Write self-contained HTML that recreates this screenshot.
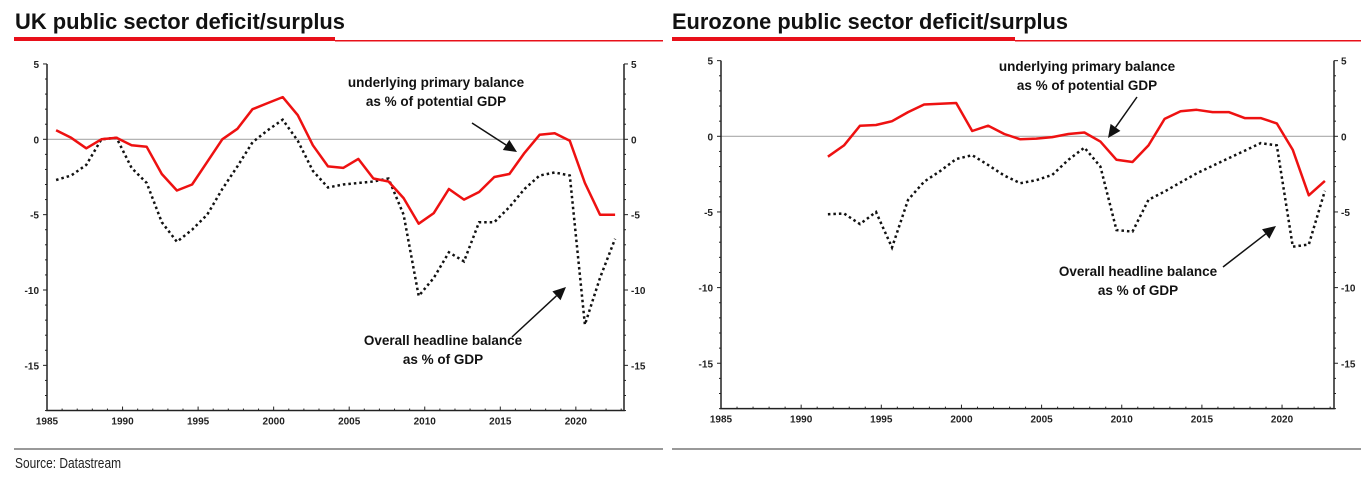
<!DOCTYPE html>
<html><head><meta charset="utf-8"><style>
body{margin:0;background:#fff;width:1371px;height:475px;overflow:hidden;font-family:"Liberation Sans",Arial,sans-serif}
</style></head><body>
<svg id="svg" width="1371" height="475" xmlns="http://www.w3.org/2000/svg">
<text x="15" y="29" font-family="Liberation Sans, sans-serif" font-weight="bold" font-size="22" fill="#111" textLength="330" lengthAdjust="spacingAndGlyphs">UK public sector deficit/surplus</text>
<rect x="14" y="37" width="321" height="4" fill="#e8101a"/>
<rect x="335" y="40" width="328" height="1.5" fill="#e8101a"/>
<text x="672" y="29" font-family="Liberation Sans, sans-serif" font-weight="bold" font-size="22" fill="#111" textLength="396" lengthAdjust="spacingAndGlyphs">Eurozone public sector deficit/surplus</text>
<rect x="672" y="37" width="343" height="4" fill="#e8101a"/>
<rect x="1015" y="40" width="346" height="1.5" fill="#e8101a"/>
<rect x="14" y="448" width="649" height="2" fill="#999"/>
<rect x="672" y="448" width="689" height="2" fill="#999"/>
<text x="15" y="468" font-size="15" fill="#222" textLength="106" lengthAdjust="spacingAndGlyphs">Source: Datastream</text>
</svg>
<script>
const ukYears=[1986,1987,1988,1989,1990,1991,1992,1993,1994,1995,1996,1997,1998,1999,2000,2001,2002,2003,2004,2005,2006,2007,2008,2009,2010,2011,2012,2013,2014,2015,2016,2017,2018,2019,2020,2021,2022,2023];
const ukPrimary=[0.6,0.1,-0.6,0,0.1,-0.4,-0.5,-2.3,-3.4,-3.0,-1.5,0.0,0.7,2.0,2.4,2.8,1.6,-0.4,-1.8,-1.9,-1.3,-2.6,-2.8,-3.9,-5.6,-4.9,-3.3,-4.0,-3.5,-2.5,-2.3,-0.9,0.3,0.4,-0.1,-2.9,-5.0,-5.0];
const ukHeadline=[-2.7,-2.4,-1.7,0.0,0.1,-1.9,-2.9,-5.5,-6.8,-6.0,-5.0,-3.3,-1.8,-0.2,0.6,1.3,-0.1,-2.1,-3.2,-3.0,-2.9,-2.8,-2.6,-5.0,-10.4,-9.2,-7.5,-8.1,-5.5,-5.5,-4.5,-3.3,-2.4,-2.2,-2.4,-12.3,-9.2,-6.6];
const ezYears=[1992,1993,1994,1995,1996,1997,1998,1999,2000,2001,2002,2003,2004,2005,2006,2007,2008,2009,2010,2011,2012,2013,2014,2015,2016,2017,2018,2019,2020,2021,2022,2023];
const ezPrimary=[-1.35,-0.6,0.7,0.75,1.0,1.6,2.1,2.15,2.2,0.35,0.7,0.15,-0.2,-0.15,-0.05,0.15,0.25,-0.35,-1.55,-1.7,-0.6,1.15,1.65,1.75,1.6,1.6,1.2,1.2,0.85,-0.9,-3.9,-2.95];
const ezHeadline=[-5.15,-5.1,-5.8,-5.0,-7.35,-4.2,-3.0,-2.3,-1.5,-1.25,-1.9,-2.6,-3.1,-2.9,-2.55,-1.55,-0.75,-2.0,-6.2,-6.3,-4.2,-3.65,-3.05,-2.45,-1.95,-1.45,-0.95,-0.45,-0.6,-7.3,-7.15,-3.6];
const yTicks=[5,0,-5,-10,-15];
const xTicks=[1985,1990,1995,2000,2005,2010,2015,2020];

const NS='http://www.w3.org/2000/svg';
const svg=document.getElementById('svg');
function mk(tag,attrs,parent){const e=document.createElementNS(NS,tag);for(const k in attrs)e.setAttribute(k,attrs[k]);(parent||svg).appendChild(e);return e;}

function chart(cfg){
  const g=mk('g',{});
  
  
  const x=v=>cfg.x0+(v-1985)*cfg.pxYr;
  const y=v=>cfg.y0-v*cfg.pxU;
  const yTop=y(5),yBot=y(-18),xr=cfg.xR;
  const z=mk('line',{x1:cfg.x0,x2:xr,y1:y(0),y2:y(0),stroke:'#aaa','stroke-width':1.2},g);
  
  
  const ax=mk('path',{d:`M${cfg.x0},${yTop}V${yBot}H${xr}V${yTop}`,fill:'none',stroke:'#222','stroke-width':1.5},g);
  
  
  for(let v=5;v>=-18;v--){
    const major=v%5===0;
    mk('line',{x1:cfg.x0-(major?4:2),x2:cfg.x0,y1:y(v),y2:y(v),stroke:'#222'},g);
    mk('line',{x1:xr,x2:xr+(major?4:2),y1:y(v),y2:y(v),stroke:'#222'},g);
  }
  for(let yr=1985;yr<=2023;yr++){
    mk('line',{x1:x(yr),x2:x(yr),y1:yBot,y2:yBot-(yr%5===0?4:2),stroke:'#222'},g);
  }
  yTicks.forEach(t=>{
    const l=mk('text',{x:cfg.x0-8,y:y(t)+4,'text-anchor':'end','font-size':10,'font-weight':'bold',fill:'#222'},g);
    l.textContent=t;
    
    
    const r=mk('text',{x:xr+7,y:y(t)+4,'font-size':10,'font-weight':'bold',fill:'#222'},g);
    r.textContent=t;
    
    
  });
  xTicks.forEach(t=>{
    const l=mk('text',{x:x(t),y:yBot+14,'text-anchor':'middle','font-size':10,'font-weight':'bold',fill:'#222'},g);
    l.textContent=t;
    
    
  });
  const pts=(ys,vs)=>ys.map((yr,i)=>`${x(yr-cfg.off).toFixed(1)},${y(vs[i]).toFixed(1)}`).join(' ');
  const h=mk('polyline',{points:pts(cfg.years,cfg.head),fill:'none',stroke:'#111','stroke-width':2.5,'stroke-dasharray':'2.5 3'},g);
  
  
  const p=mk('polyline',{points:pts(cfg.years,cfg.prim),fill:'none',stroke:'#ee1111','stroke-width':2.5,'stroke-linejoin':'round'},g);
  
  
  cfg.texts.forEach(t=>{
    const e=mk('text',{x:t[0],y:t[1],'text-anchor':'middle','font-size':13.5,'font-weight':'bold',fill:'#111'},g);
    e.textContent=t[2];
    
    
  });
  cfg.arrows.forEach(a=>{
    const [x1,y1,x2,y2]=a;const ang=Math.atan2(y2-y1,x2-x1),L=13,W=6;
    const bx=x2-L*Math.cos(ang),by=y2-L*Math.sin(ang);
    const l=mk('line',{x1,y1,x2:bx,y2:by,stroke:'#111','stroke-width':1.5},g);
    
    
    const px=-Math.sin(ang)*W,py=Math.cos(ang)*W;
    mk('polygon',{points:`${x2},${y2} ${bx+px},${by+py} ${bx-px},${by-py}`,fill:'#111'},g);
  });
}
chart({name:'uk-chart',x0:47,xR:624,pxYr:15.11,y0:139.3,pxU:15.07,off:0.4,years:ukYears,prim:ukPrimary,head:ukHeadline,
  texts:[[436,87,'underlying primary balance'],[436,106,'as % of potential GDP'],[443,345,'Overall headline balance'],[443,364,'as % of GDP']],
  arrows:[[472,123,517,152],[512,337,566,287]]});
chart({name:'ez-chart',x0:721,xR:1334,pxYr:16.03,y0:136.3,pxU:15.13,off:0.33,years:ezYears,prim:ezPrimary,head:ezHeadline,
  texts:[[1087,71,'underlying primary balance'],[1087,90,'as % of potential GDP'],[1138,276,'Overall headline balance'],[1138,295,'as % of GDP']],
  arrows:[[1137,97,1108,138],[1223,267,1276,226]]});
</script>
</body></html>
